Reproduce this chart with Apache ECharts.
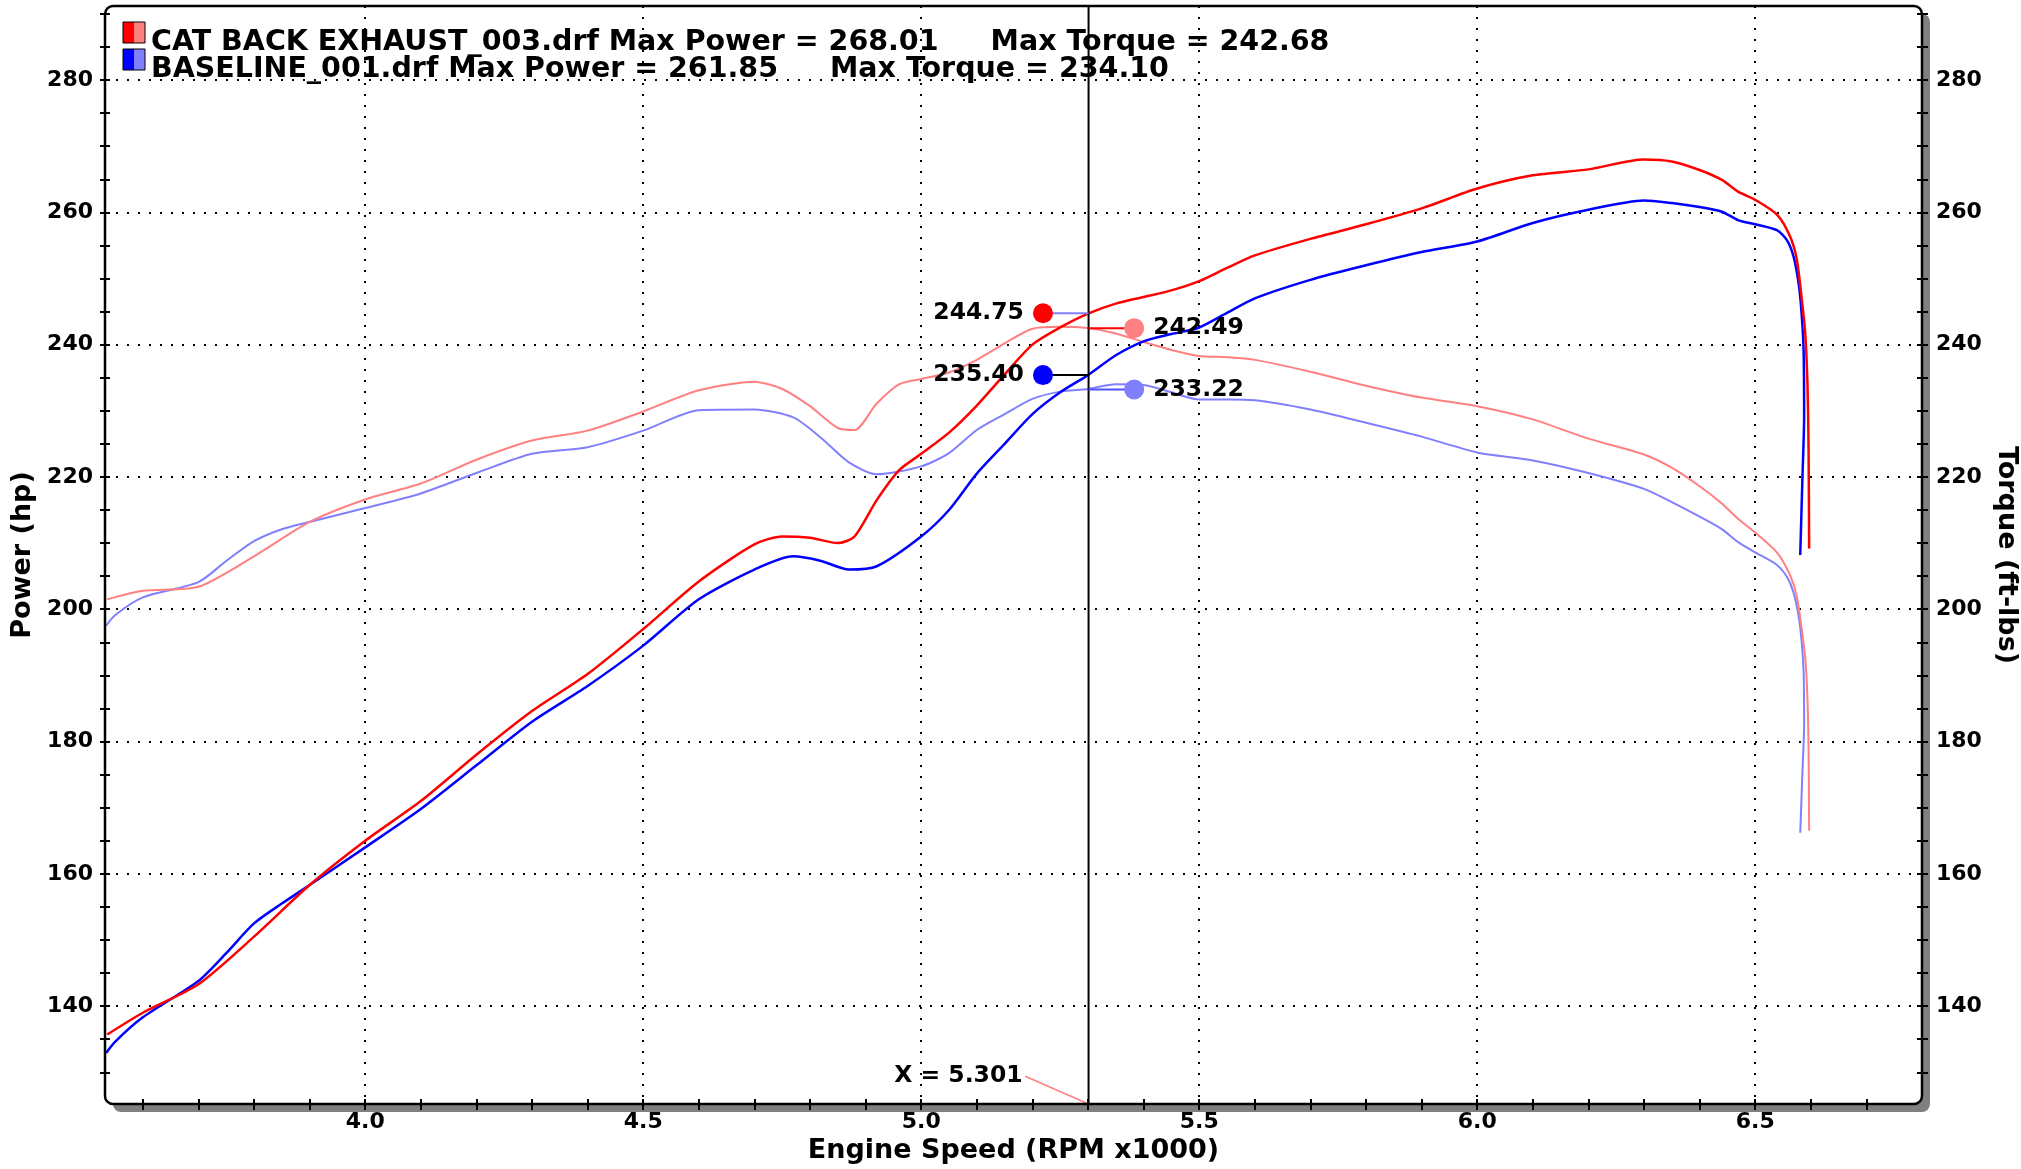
<!DOCTYPE html>
<html><head><meta charset="utf-8">
<script src="https://cdn.jsdelivr.net/npm/echarts@6/dist/echarts.min.js"></script>
<style>html,body{margin:0;padding:0;background:#fff}#c{width:2021px;height:1169px}</style>
</head><body><div id="c"></div><script>
// ---------- DATA ----------
const runNames = ['CAT BACK EXHAUST_003.drf', 'BASELINE_001.drf'];
const maxPower = [268.01, 261.85];
const maxTorque = [242.68, 234.10];

const catRpm = [3.536,3.6,3.7,3.8,3.9,4.0,4.1,4.2,4.3,4.4,4.5,4.6,4.7,4.75,4.8,4.85,4.88,4.92,4.96,5.0,5.05,5.1,5.15,5.2,5.25,5.3,5.35,5.4,5.45,5.5,5.55,5.6,5.7,5.8,5.9,6.0,6.1,6.2,6.3,6.35,6.4,6.44,6.47,6.5,6.54,6.563,6.575,6.584,6.59,6.594,6.596,6.597];
const catPower = [135.7,139.0,143.3,150.5,158.3,165.0,171.0,178.0,184.6,190.2,197.0,204.2,209.8,211.0,210.8,210.0,211.0,216.5,221.0,223.5,226.7,230.8,235.5,240.0,242.6,244.7,246.2,247.2,248.2,249.6,251.6,253.5,256.0,258.2,260.6,263.6,265.6,266.5,268.0,267.7,266.4,264.9,263.1,261.9,259.6,256.3,252.8,246.7,241.7,234.1,224.1,209.2];
const catTorque = [201.5,202.8,203.4,208.0,213.2,216.6,219.0,222.6,225.5,227.0,229.9,233.1,234.4,233.3,230.7,227.4,227.1,231.1,234.0,234.8,235.8,237.7,240.2,242.4,242.7,242.5,241.7,240.4,239.2,238.3,238.1,237.7,235.9,233.8,232.0,230.7,228.7,225.8,223.4,221.4,218.6,216.0,213.6,211.6,208.5,205.1,201.9,196.8,192.6,186.5,178.4,166.5];

const baseRpm = [3.534,3.55,3.6,3.7,3.75,3.8,3.85,3.9,4.0,4.1,4.2,4.3,4.4,4.5,4.6,4.7,4.77,4.82,4.87,4.92,5.0,5.05,5.1,5.15,5.2,5.25,5.3,5.35,5.4,5.45,5.5,5.55,5.6,5.7,5.8,5.9,6.0,6.1,6.2,6.3,6.35,6.4,6.44,6.47,6.5,6.539,6.557,6.569,6.578,6.583,6.587,6.588,6.585,6.581];
const basePower = [132.9,134.6,138.3,143.8,148.0,152.5,155.5,158.3,164.0,169.8,176.4,183.0,188.4,194.5,201.5,206.0,208.0,207.3,206.0,206.5,211.0,215.0,220.5,225.0,229.5,232.8,235.4,238.4,240.5,241.6,242.6,244.8,247.0,249.8,252.0,254.0,255.6,258.4,260.4,261.8,261.4,260.8,260.1,258.8,258.2,257.3,255.8,253.3,249.3,245.2,239.2,229.1,220.0,208.2];
const baseTorque = [197.5,199.1,201.8,204.1,207.3,210.3,212.1,213.2,215.3,217.5,220.6,223.5,224.5,227.0,230.1,230.2,229.0,225.9,222.2,220.4,221.6,223.6,227.1,229.5,231.8,232.9,233.3,234.0,233.9,232.8,231.7,231.7,231.6,230.2,228.2,226.1,223.7,222.5,220.6,218.2,216.2,214.0,212.1,210.1,208.6,206.7,204.9,202.5,199.0,195.6,190.7,182.6,175.5,166.2];

// cursor readout
const cursorRpm = 5.301;
const readoutRpm = [5.219, 5.383, 5.219, 5.383];
const readoutValues = [244.75, 242.49, 235.40, 233.22];
const cursorLabelAnchor = [5.187, 129.4];

// ticks
const xTickLabels = [4.0, 4.5, 5.0, 5.5, 6.0, 6.5];
const xMinorTicks = [3.6,3.7,3.8,3.9,4.0,4.1,4.2,4.3,4.4,4.5,4.6,4.7,4.8,4.9,5.0,5.1,5.2,5.3,5.4,5.5,5.6,5.7,5.8,5.9,6.0,6.1,6.2,6.3,6.4,6.5,6.6,6.7];
const yTickLabels = [140, 160, 180, 200, 220, 240, 260, 280];
const yMinorTicks = [130,135,140,145,150,155,160,165,170,175,180,185,190,195,200,205,210,215,220,225,230,235,240,245,250,255,260,265,270,275,280,285,290];

// ---------- STYLE / LAYOUT ----------
const FONT = '"DejaVu Sans", Verdana, sans-serif';
const X_MIN = 3.532, X_MAX = 6.8, Y_MIN = 125.2, Y_MAX = 291.2;
const GRID = {left: 105, top: 6, width: 1817, height: 1098};
const C = {red: '#ff0000', lred: '#ff8080', blue: '#0000ff', lblue: '#8080ff'};
const readoutColors = [C.red, C.lred, C.blue, C.lblue];
const leaderColors = ['#8080ff', '#ff0000', '#000000', '#5050ff'];
const labelSides = ['left', 'right', 'left', 'right'];

const pairs = (xs, ys) => xs.map((x, i) => [x, ys[i]]);
const txt = (size) => ({fontFamily: FONT, fontWeight: 'bold', fontSize: size, color: '#000', opacity: 1, textBorderWidth: 0});

function xAx(extra) {
  return Object.assign({type: 'value', min: X_MIN, max: X_MAX, position: 'bottom',
    axisLine: {show: false}, axisLabel: {show: false}, axisTick: {show: false}, splitLine: {show: false}}, extra);
}
function yAx(extra) {
  return Object.assign({type: 'value', min: Y_MIN, max: Y_MAX,
    axisLine: {show: false}, axisLabel: {show: false}, axisTick: {show: false}, splitLine: {show: false}}, extra);
}
const tickStyle = {color: '#000', width: 2};
const gridStyle = {color: '#000', width: 2, type: [2, 9]};

const xAxis = [
  xAx({axisTick: {show: true, inside: false, length: 6, customValues: xMinorTicks, lineStyle: tickStyle},
       axisLabel: Object.assign({show: true, customValues: xTickLabels, margin: 7, formatter: v => v.toFixed(1)}, txt(22)),
       name: 'Engine Speed (RPM x1000)', nameLocation: 'middle', nameGap: 32, nameTextStyle: txt(27)}),
  xAx({axisTick: {show: true, inside: true, length: 5, customValues: xMinorTicks, lineStyle: tickStyle}}),
  xAx({axisTick: {show: false, customValues: xTickLabels}, splitLine: {show: true, lineStyle: gridStyle}})
];
const yAxis = [
  yAx({position: 'left', axisTick: {show: true, inside: false, length: 5, customValues: yMinorTicks, lineStyle: tickStyle},
       axisLabel: Object.assign({show: true, customValues: yTickLabels, margin: 12, formatter: v => String(Math.round(v))}, txt(22)),
       name: 'Power (hp)', nameLocation: 'middle', nameGap: 64, nameRotate: 90, nameTextStyle: txt(27)}),
  yAx({position: 'right', axisTick: {show: true, inside: false, length: 6, customValues: yMinorTicks, lineStyle: tickStyle},
       axisLabel: Object.assign({show: true, customValues: yTickLabels, margin: 14, formatter: v => String(Math.round(v))}, txt(22)),
       name: 'Torque (ft-lbs)', nameLocation: 'middle', nameGap: 57, nameRotate: -90, nameTextStyle: txt(27)}),
  yAx({position: 'left', axisTick: {show: true, inside: true, length: 5, customValues: yMinorTicks, lineStyle: tickStyle}}),
  yAx({position: 'right', axisTick: {show: true, inside: true, length: 5, customValues: yMinorTicks, lineStyle: tickStyle}}),
  yAx({position: 'left', axisTick: {show: false, customValues: yTickLabels}, splitLine: {show: true, lineStyle: gridStyle}})
];

function curve(name, data, yIdx, color, width, z) {
  return {name, type: 'line', xAxisIndex: 0, yAxisIndex: yIdx, data, smooth: 0.25, showSymbol: false, symbol: 'none',
    lineStyle: {color, width}, itemStyle: {color}, z, silent: true, animation: false};
}

const series = [
  curve(runNames[1] + ' Torque', pairs(baseRpm, baseTorque), 1, C.lblue, 2, 3),
  curve(runNames[0] + ' Torque', pairs(catRpm, catTorque), 1, C.lred, 2, 3),
  curve(runNames[1] + ' Power', pairs(baseRpm, basePower), 0, C.blue, 2.5, 4),
  curve(runNames[0] + ' Power', pairs(catRpm, catPower), 0, C.red, 2.5, 4),
  {type: 'line', xAxisIndex: 0, yAxisIndex: 0, data: [[cursorRpm, Y_MIN], [cursorRpm, Y_MAX]], symbol: 'none',
   lineStyle: {color: '#000', width: 2}, z: 6, silent: true},
  {type: 'line', xAxisIndex: 0, yAxisIndex: 0, data: [cursorLabelAnchor, [cursorRpm, Y_MIN]], symbol: 'none',
   lineStyle: {color: C.lred, width: 1.5}, z: 6, silent: true},
  {type: 'scatter', xAxisIndex: 0, yAxisIndex: 0, data: [cursorLabelAnchor], symbolSize: 1,
   itemStyle: {color: 'rgba(0,0,0,0)', opacity: 1}, z: 7, silent: true,
   label: Object.assign({show: true, position: 'left', distance: 2, formatter: () => 'X = ' + cursorRpm.toFixed(3)}, txt(23.5))}
];
readoutValues.forEach((v, i) => {
  series.push({type: 'line', xAxisIndex: 0, yAxisIndex: 0, data: [[readoutRpm[i], v], [cursorRpm, v]], symbol: 'none',
    lineStyle: {color: leaderColors[i], width: 2}, z: 7, silent: true});
});
series.push({type: 'scatter', xAxisIndex: 0, yAxisIndex: 0, symbolSize: 20, z: 8, silent: true,
  itemStyle: {opacity: 1},
  data: readoutValues.map((v, i) => ({value: [readoutRpm[i], v], itemStyle: {color: readoutColors[i], opacity: 1},
    label: Object.assign({position: labelSides[i]}, txt(23.5))})),
  label: Object.assign({show: true, distance: 9, formatter: p => p.value[1].toFixed(2)}, txt(23.5))});

const legendColors = [[C.red, C.lred], [C.blue, C.lblue]];
const legendGraphics = [];
runNames.forEach((n, i) => {
  const y = 22 + i * 27;
  legendGraphics.push({type: 'rect', shape: {x: 123, y, width: 11, height: 21}, style: {fill: legendColors[i][0]}, z: 100});
  legendGraphics.push({type: 'rect', shape: {x: 134, y, width: 11, height: 21}, style: {fill: legendColors[i][1]}, z: 100});
  legendGraphics.push({type: 'rect', shape: {x: 123, y, width: 22, height: 21}, style: {fill: 'none', stroke: '#000', lineWidth: 1}, z: 101});
  legendGraphics.push({type: 'text', x: 151, y: y + 21, z: 101, style: {
    text: n + ' Max Power = ' + maxPower[i].toFixed(2) + '{g|}Max Torque = ' + maxTorque[i].toFixed(2),
    font: 'bold 28.5px ' + FONT, fill: '#000', verticalAlign: 'middle', align: 'left',
    rich: {g: {width: 52}}}});
});

const option = {
  animation: false,
  backgroundColor: '#ffffff',
  grid: Object.assign({containLabel: false, outerBoundsMode: 'none'}, GRID),
  xAxis, yAxis, series,
  graphic: [
    {type: 'rect', shape: {x: GRID.left + 8, y: GRID.top + 8, width: GRID.width, height: GRID.height, r: 8}, style: {fill: '#808080'}, z: -10, silent: true},
    {type: 'rect', shape: {x: GRID.left, y: GRID.top, width: GRID.width, height: GRID.height, r: 8}, style: {fill: '#ffffff'}, z: -9, silent: true},
    {type: 'rect', shape: {x: GRID.left, y: GRID.top, width: GRID.width, height: GRID.height, r: 8}, style: {fill: 'none', stroke: '#000', lineWidth: 2.5}, z: 100, silent: true}
  ].concat(legendGraphics)
};

const chart = echarts.init(document.getElementById('c'), null, {renderer: 'canvas'});
chart.setOption(option);
</script></body></html>
